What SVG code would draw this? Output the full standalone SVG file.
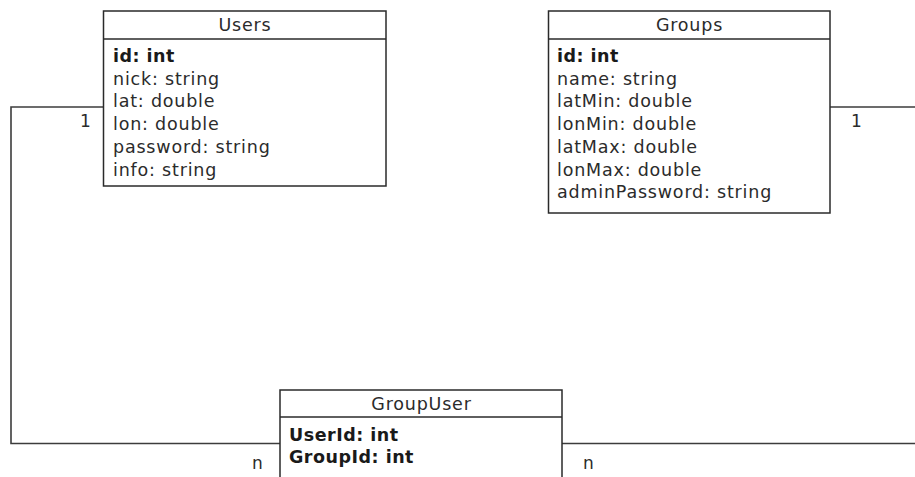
<svg xmlns="http://www.w3.org/2000/svg" width="915" height="477" viewBox="0 0 915 477">
  <style>
    .box { fill: #ffffff; stroke: #2a2a2a; stroke-width: 1.5; }
    .sep { stroke: #2a2a2a; stroke-width: 1.5; }
    .wire { fill: none; stroke: #3c3c3c; stroke-width: 1.6; }
    text { font-family: "DejaVu Sans", "Liberation Sans", sans-serif; font-size: 17.5px; letter-spacing: 0.8px; fill: #2b2b2b; }
    .title { text-anchor: middle; }
    .key { font-weight: bold; fill: #1a1a1a; letter-spacing: 0.5px; }
    .mult { font-size: 17px; letter-spacing: 0; }
  </style>
  <rect width="915" height="477" fill="#ffffff"/>

  <!-- relationships -->
  <g id="connectors">
    <path class="wire" d="M103.5 107 H11 V443.5 H280"/>
    <path class="wire" d="M830 107 H918 V443.5 H562"/>
    <text class="mult" x="80" y="127">1</text>
    <text class="mult" x="851" y="127">1</text>
    <text class="mult" x="252" y="469">n</text>
    <text class="mult" x="583" y="469">n</text>
  </g>

  <!-- Users table -->
  <g id="users">
    <rect class="box" x="103.5" y="11" width="282.5" height="175"/>
    <line class="sep" x1="103.5" y1="39" x2="386" y2="39"/>
    <text class="title" x="245" y="31">Users</text>
    <text class="key" x="113" y="62">id: int</text>
    <text x="113" y="84.7">nick: string</text>
    <text x="113" y="107.4">lat: double</text>
    <text x="113" y="130.1">lon: double</text>
    <text x="113" y="152.8">password: string</text>
    <text x="113" y="175.5">info: string</text>
  </g>

  <!-- Groups table -->
  <g id="groups">
    <rect class="box" x="548.5" y="11" width="281.5" height="202"/>
    <line class="sep" x1="548.5" y1="39" x2="830" y2="39"/>
    <text class="title" x="689.5" y="31">Groups</text>
    <text class="key" x="557" y="62">id: int</text>
    <text x="557" y="84.7">name: string</text>
    <text x="557" y="107.4">latMin: double</text>
    <text x="557" y="130.1">lonMin: double</text>
    <text x="557" y="152.8">latMax: double</text>
    <text x="557" y="175.5">lonMax: double</text>
    <text x="557" y="198.2">adminPassword: string</text>
  </g>

  <!-- GroupUser link table -->
  <g id="groupuser">
    <rect class="box" x="280" y="390" width="282" height="100"/>
    <line class="sep" x1="280" y1="417" x2="562" y2="417"/>
    <text class="title" x="421.5" y="410">GroupUser</text>
    <text class="key" x="289" y="440.5">UserId: int</text>
    <text class="key" x="289" y="463.2">GroupId: int</text>
  </g>
</svg>
